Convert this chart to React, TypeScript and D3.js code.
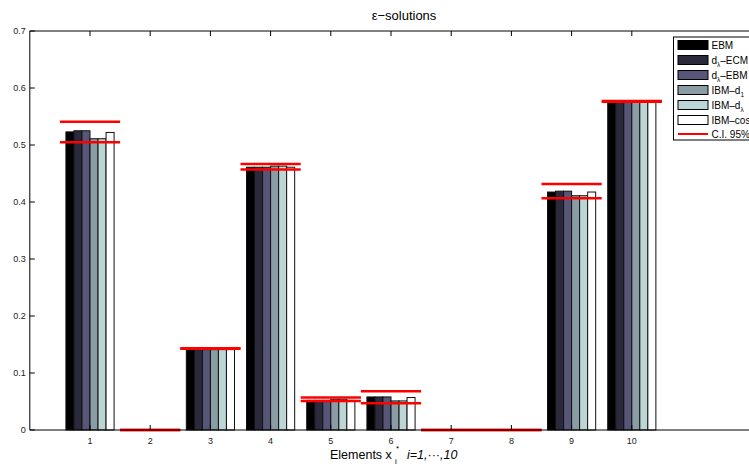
import React from "react";
import * as d3 from "d3";

const categories = [1, 2, 3, 4, 5, 6, 7, 8, 9, 10];
const seriesNames = ["EBM", "dλ–ECM", "dλ–EBM", "IBM–d1", "IBM–dλ", "IBM–cos"];
const ebm = [0.523, 0, 0.141, 0.461, 0.052, 0.058, 0, 0, 0.4175, 0.575];
const dEcm = [0.525, 0, 0.141, 0.461, 0.052, 0.058, 0, 0, 0.419, 0.575];
const dEbm = [0.525, 0, 0.141, 0.461, 0.052, 0.058, 0, 0, 0.419, 0.575];
const ibmD1 = [0.511, 0, 0.141, 0.463, 0.054, 0.051, 0, 0, 0.411, 0.575];
const ibmDl = [0.511, 0, 0.141, 0.463, 0.054, 0.051, 0, 0, 0.411, 0.575];
const ibmCos = [0.522, 0, 0.141, 0.461, 0.052, 0.057, 0, 0, 0.4175, 0.575];
const ciLow = [0.505, 0, 0.1425, 0.457, 0.051, 0.047, 0, 0, 0.4065, 0.576];
const ciHigh = [0.541, 0, 0.1435, 0.4667, 0.057, 0.068, 0, 0, 0.4316, 0.577];
const colors = ["#000000", "#2b2a3c", "#575679", "#8b9da4", "#bbd6d4", "#ffffff"];
const yTicks = [0, 0.1, 0.2, 0.3, 0.4, 0.5, 0.6, 0.7];

const series = [ebm, dEcm, dEbm, ibmD1, ibmDl, ibmCos];

export default function App() {
  const W = 749, H = 469;
  const left = 29.8, top = 31, bottom = 430;
  const x = d3.scaleLinear().domain([0, 12.25]).range([left, left + 12.25 * 60.2]);
  const y = d3.scaleLinear().domain([0, 0.7]).range([bottom, top]);
  const groupW = 0.8;
  const bw = groupW / series.length;
  const font = "'Liberation Sans', Arial, Helvetica, sans-serif";
  const right = x(12.25);

  const legendRows = [
    { main: "EBM" },
    { main: "d", sub: "λ", rest: "–ECM" },
    { main: "d", sub: "λ", rest: "–EBM" },
    { main: "IBM–d", sub: "1" },
    { main: "IBM–d", sub: "λ" },
    { main: "IBM–cos" },
  ];

  return (
    <svg width={W} height={H} style={{ position: "absolute", left: 0, top: 0, background: "#fff" }} fontFamily={font}>
      <rect x={0} y={0} width={W} height={H} fill="#fff" />
      {/* bars */}
      {series.map((s, si) =>
        categories.map((c, ci) => {
          const v = s[ci];
          if (v <= 0) return null;
          const x0 = x(c - groupW / 2 + si * bw);
          const x1 = x(c - groupW / 2 + (si + 1) * bw);
          return (
            <rect
              key={`${si}-${ci}`}
              x={x0}
              y={y(v)}
              width={x1 - x0}
              height={y(0) - y(v)}
              fill={colors[si]}
              stroke="#111"
              strokeWidth={1}
            />
          );
        })
      )}
      {/* CI lines */}
      {categories.map((c, ci) => (
        <g key={`ci${ci}`}>
          <line x1={x(c - 0.5)} x2={x(c + 0.5)} y1={y(ciLow[ci])} y2={y(ciLow[ci])} stroke="#ff0000" strokeWidth={2.5} />
          <line x1={x(c - 0.5)} x2={x(c + 0.5)} y1={y(ciHigh[ci])} y2={y(ciHigh[ci])} stroke="#ff0000" strokeWidth={2.5} />
        </g>
      ))}
      {/* axes box */}
      <line x1={left} x2={right} y1={bottom} y2={bottom} stroke="#000" strokeWidth={1} />
      <line x1={left} x2={right} y1={top} y2={top} stroke="#000" strokeWidth={1} />
      <line x1={left} x2={left} y1={top} y2={bottom} stroke="#000" strokeWidth={1} />
      {/* x ticks */}
      {categories.map((c) => (
        <g key={`xt${c}`}>
          <line x1={x(c)} x2={x(c)} y1={bottom} y2={bottom - 5} stroke="#000" />
          <line x1={x(c)} x2={x(c)} y1={top} y2={top + 5} stroke="#000" />
          <text x={x(c)} y={bottom + 14} fontSize={9} textAnchor="middle" fill="#222">{c}</text>
        </g>
      ))}
      {/* y ticks */}
      {yTicks.map((t) => (
        <g key={`yt${t}`}>
          <line x1={left} x2={left + 5} y1={y(t)} y2={y(t)} stroke="#000" />
          <text x={left - 4} y={y(t) + 3} fontSize={9} textAnchor="end" fill="#222">{t === 0 ? "0" : t.toFixed(1)}</text>
        </g>
      ))}
      {/* title */}
      <text x={404} y={20} fontSize={13} textAnchor="middle" fill="#000">ε−solutions</text>
      {/* x label */}
      <text x={330} y={459} fontSize={12.5} fill="#000">
        Elements x
      </text>
      <text x={396} y={451} fontSize={8} fill="#000">*</text>
      <text x={395} y={464} fontSize={8} fill="#000">i</text>
      <text x={407} y={459} fontSize={12.5} fontStyle="italic" fill="#000">i=1,···,10</text>
      {/* legend */}
      <rect x={673.5} y={37} width={90} height={103} fill="#fff" stroke="#000" strokeWidth={1} />
      {legendRows.map((r, i) => {
        const cy = 45 + i * 15;
        return (
          <g key={`lg${i}`}>
            <rect x={678} y={cy - 4.5} width={30} height={9} fill={colors[i]} stroke="#000" strokeWidth={1} />
            <text x={711.5} y={cy + 3.5} fontSize={10} fill="#000">
              {r.main}
              {r.sub ? <tspan fontSize={6.5} dy={3}>{r.sub}</tspan> : null}
              {r.rest ? <tspan dy={-3}>{r.rest}</tspan> : null}
            </text>
          </g>
        );
      })}
      <line x1={678} x2={708} y1={134} y2={134} stroke="#ff0000" strokeWidth={2} />
      <text x={711.5} y={137.5} fontSize={10} fill="#000">C.I. 95%</text>
    </svg>
  );
}
